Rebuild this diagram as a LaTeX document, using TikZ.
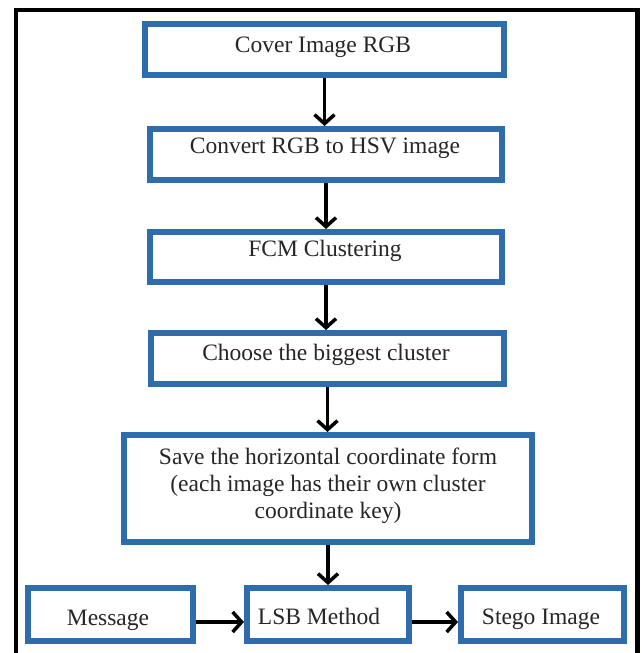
\documentclass[tikz,border=0pt]{standalone}
\usepackage{fontspec}
\setmainfont{Liberation Serif}
\usetikzlibrary{arrows.meta}
\definecolor{boxblue}{RGB}{46,108,172}
\tikzset{
  box/.style={draw=boxblue, line width=6pt, fill=white, inner sep=0pt, minimum height=51pt},
  lbl/.style={font=\fontsize{23.5}{27}\selectfont, inner sep=0pt, anchor=base, text=black!85},
  arr/.style={draw=black, line width=3.5pt, -{Straight Barb[length=9pt,width=20pt]}},
  frame/.style={draw=black, line width=4.5pt}
}
\begin{document}
\begin{tikzpicture}[x=1pt,y=-1pt]
\useasboundingbox (0,0) rectangle (642,653);
\fill[white] (0,0) rectangle (642,653);
\draw[frame] (16,653) -- (16,10) -- (637.5,10) -- (637.5,653);

\node[box, minimum width=359pt] (b1) at (324.5,49.5) {};
\node[box, minimum width=352pt] (b2) at (326,154.5) {};
\node[box, minimum width=352pt, minimum height=50pt] (b3) at (326,257) {};
\node[box, minimum width=353pt] (b4) at (327.5,358.5) {};
\node[box, minimum width=408pt, minimum height=107pt] (b5) at (328,488.5) {};
\node[box, minimum width=165pt, minimum height=53pt] (msg) at (110.5,614.5) {};
\node[box, minimum width=162pt, minimum height=53pt] (lsb) at (328,614.5) {};
\node[box, minimum width=163pt, minimum height=53pt] (stego) at (542.5,614.5) {};

\node[lbl] (t1) at (323,52) {Cover Image RGB};
\node[lbl] (t2) at (325,153) {Convert RGB to HSV image};
\node[lbl] (t3) at (325,256) {FCM Clustering};
\node[lbl] (t4) at (326,360) {Choose the biggest cluster};
\node[lbl, anchor=center, align=center] (t5) at (328,486) {Save the horizontal coordinate form\\(each image has their own cluster\\coordinate key)};
\node[lbl] (tm) at (108,625) {Message};
\node[lbl] (tl) at (319,624) {LSB Method};
\node[lbl] (ts) at (541,624) {Stego Image};

\draw[arr] (b1.south) -- (b1.south |- b2.north);
\draw[arr] (b2.south) -- (b2.south |- b3.north);
\draw[arr] (b3.south) -- (b3.south |- b4.north);
\draw[arr] (b4.south) -- (b4.south |- b5.north);
\draw[arr] (b5.south) -- (b5.south |- lsb.north);
\draw[arr] ([yshift=-7.5pt]msg.east) -- ([yshift=-7.5pt]lsb.west);
\draw[arr] ([yshift=-7.5pt]lsb.east) -- ([yshift=-7.5pt]stego.west);
\end{tikzpicture}
\end{document}
